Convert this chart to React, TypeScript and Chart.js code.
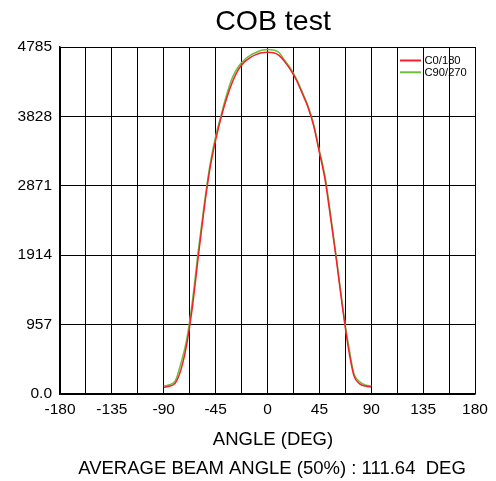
import React, { useEffect, useRef } from "react";
import { Chart, registerables } from "chart.js";

Chart.register(...registerables);

const angles = [-90, -85, -80, -75, -70, -65, -60, -55, -50, -45, -40, -35, -30, -25, -20, -15, -10, -5, 0, 5, 10, 15, 20, 25, 30, 35, 40, 45, 50, 55, 60, 65, 70, 75, 80, 85, 90];
const c0_180 = [92, 110, 150, 340, 690, 1220, 1900, 2550, 3100, 3500, 3830, 4100, 4320, 4480, 4580, 4640, 4680, 4705, 4713, 4705, 4670, 4580, 4470, 4330, 4150, 3960, 3700, 3330, 2950, 2400, 1820, 1200, 650, 250, 140, 110, 95];
const c90_270 = [110, 130, 180, 430, 760, 1300, 1980, 2600, 3150, 3550, 3860, 4150, 4380, 4520, 4610, 4670, 4710, 4740, 4750, 4745, 4710, 4600, 4490, 4350, 4170, 3980, 3720, 3360, 2990, 2440, 1850, 1230, 700, 280, 170, 125, 110];
const xTicks = [-180, -157.5, -135, -112.5, -90, -67.5, -45, -22.5, 0, 22.5, 45, 67.5, 90, 112.5, 135, 157.5, 180];
const yTicks = [0, 957, 1914, 2871, 3828, 4785];
const seriesNames = ["C0/180", "C90/270"];
const seriesColors = ["#f4202c", "#6cbf3a"];
const titleText = "COB test";
const xTitle = "ANGLE (DEG)";
const beamText = "AVERAGE BEAM ANGLE (50%) : 111.64  DEG";

const FONT = "'Liberation Sans', Arial, sans-serif";

export default function App() {
  const ref = useRef<HTMLCanvasElement | null>(null);
  useEffect(() => {
    if (!ref.current) return;
    const textPlugin = {
      id: "texts",
      afterDraw(chart: any) {
        const ctx = chart.ctx;
        const ca = chart.chartArea;
        ctx.save();
        ctx.fillStyle = "#000";
        ctx.textAlign = "center";
        ctx.textBaseline = "alphabetic";
        ctx.font = `28.5px ${FONT}`;
        ctx.fillText(titleText, 273, 30);
        ctx.font = `18.5px ${FONT}`;
        ctx.fillText(xTitle, 273, 445);
        ctx.fillText(beamText, 272, 474);
        // legend
        ctx.font = `11.2px ${FONT}`;
        ctx.textAlign = "left";
        ctx.textBaseline = "middle";
        const lx = ca.right - 75;
        seriesNames.forEach((n, i) => {
          const y = ca.top + 13.5 + i * 11.8;
          ctx.strokeStyle = seriesColors[i];
          ctx.lineWidth = 2;
          ctx.beginPath();
          ctx.moveTo(lx, y);
          ctx.lineTo(lx + 21, y);
          ctx.stroke();
          ctx.fillText(n, lx + 24.5, y + 0.5);
        });
        ctx.restore();
      },
    };
    const chart = new Chart(ref.current, {
      type: "line",
      data: {
        datasets: [
          {
            label: seriesNames[0],
            data: angles.map((a, i) => ({ x: a, y: c0_180[i] })),
            borderColor: seriesColors[0],
            borderWidth: 1.5,
            pointRadius: 0,
            cubicInterpolationMode: "monotone",
            fill: false,
          },
          {
            label: seriesNames[1],
            data: angles.map((a, i) => ({ x: a, y: c90_270[i] })),
            borderColor: seriesColors[1],
            borderWidth: 1.5,
            pointRadius: 0,
            cubicInterpolationMode: "monotone",
            fill: false,
          },
        ],
      },
      options: {
        animation: false,
        responsive: false,
        maintainAspectRatio: false,
        layout: { padding: { left: 0, top: 47, right: 21, bottom: 0 } },
        plugins: {
          legend: { display: false },
          title: { display: false },
          tooltip: { enabled: false },
        },
        scales: {
          x: {
            type: "linear",
            min: -180,
            max: 180,
            afterBuildTicks: (scale: any) => {
              scale.ticks = xTicks.map((v) => ({ value: v }));
            },
            afterFit: (scale: any) => {
              scale.height = 87;
            },
            ticks: {
              autoSkip: false,
              maxRotation: 0,
              padding: 6,
              color: "#000",
              font: { family: FONT, size: 15.5 },
              callback: (v: any) => (Number(v) % 45 === 0 ? String(v) : ""),
            },
            grid: { color: "#000", lineWidth: 1, drawTicks: false },
            border: { color: "#000", width: 1.5 },
          },
          y: {
            type: "linear",
            min: 0,
            max: 4785,
            afterBuildTicks: (scale: any) => {
              scale.ticks = yTicks.map((v) => ({ value: v }));
            },
            afterFit: (scale: any) => {
              scale.width = 60;
            },
            ticks: {
              autoSkip: false,
              padding: 8,
              color: "#000",
              font: { family: FONT, size: 15.5 },
              callback: (v: any) => (Number(v) === 0 ? "0.0" : String(v)),
            },
            grid: { color: "#000", lineWidth: 1, drawTicks: false },
            border: { color: "#000", width: 1.5 },
          },
        },
      },
      plugins: [textPlugin],
    } as any);
    return () => chart.destroy();
  }, []);
  return (
    <div style={{ position: "absolute", left: 0, top: 0, width: 496, height: 481, background: "#fff" }}>
      <canvas ref={ref} width={496} height={481} style={{ width: 496, height: 481, display: "block" }} />
    </div>
  );
}
